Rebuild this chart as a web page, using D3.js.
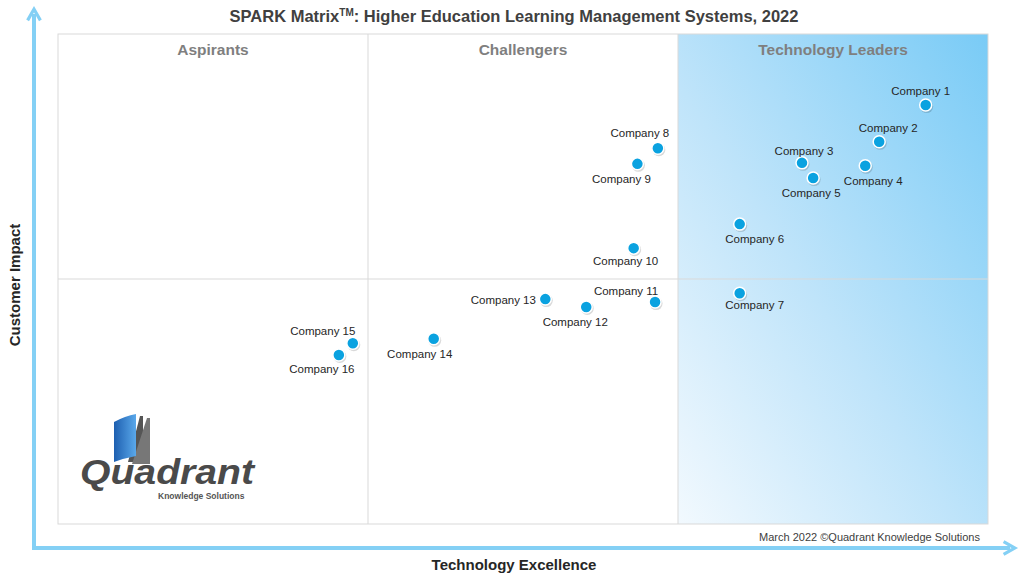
<!DOCTYPE html>
<html><head><meta charset="utf-8">
<script src="https://cdn.jsdelivr.net/npm/d3@7.9.0/dist/d3.min.js"></script>
<style>body{margin:0;background:#fff}svg{font-family:Arial,"Liberation Sans",sans-serif}</style>
</head><body><svg id="chart" width="1024" height="576"></svg>
<script>
const companies = ["Company 1","Company 2","Company 3","Company 4","Company 5","Company 6","Company 7","Company 8","Company 9","Company 10","Company 11","Company 12","Company 13","Company 14","Company 15","Company 16"];
const techExcellence = [93.3,88.3,80.0,86.8,81.2,73.3,73.3,64.5,62.3,61.9,64.2,56.8,52.4,40.4,31.7,30.2];
const customerImpact = [85.5,78.0,73.7,73.1,70.6,61.2,47.1,76.7,73.5,56.3,45.3,44.3,45.9,37.8,36.9,34.5];
const labelDx = [-5,9,2,8,-2,15,15,-18,-16,-8,-29,-11,-42,-14,-30,-17];
const labelDy = [-14,-14,-12,15,15,15,12,-15,15,13,-11,15,1,15,-12,14];
const quadrants = ["Aspirants","Challengers","Technology Leaders"];

const svg = d3.select("#chart");
const L=58,R=988,T=34,B=524;
const x = d3.scaleLinear().domain([0,100]).range([L,R]);
const y = d3.scaleLinear().domain([0,100]).range([B,T]);

const defs = svg.append("defs");
const g = defs.append("linearGradient").attr("id","lead").attr("x1","0").attr("y1","1").attr("x2","1").attr("y2","0");
g.append("stop").attr("offset","0").attr("stop-color","#f2f9fe");
g.append("stop").attr("offset","0.45").attr("stop-color","#bfe4fa");
g.append("stop").attr("offset","1").attr("stop-color","#79cbf6");
const mk = defs.append("marker").attr("id","arr").attr("viewBox","0 0 10 10").attr("refX",5).attr("refY",5)
  .attr("markerWidth",4).attr("markerHeight",4).attr("orient","auto");
mk.append("path").attr("d","M1,1L8,5L1,9").attr("fill","none").attr("stroke","#84d0f5").attr("stroke-width",2);

svg.append("rect").attr("x",x(200/3)).attr("y",T).attr("width",x(100)-x(200/3)).attr("height",B-T).attr("fill","url(#lead)");
svg.append("rect").attr("x",L).attr("y",T).attr("width",R-L).attr("height",B-T).attr("fill","none").attr("stroke","#d9d9d9");
[100/3,200/3].forEach(v=>svg.append("line").attr("x1",x(v)).attr("x2",x(v)).attr("y1",T).attr("y2",B).attr("stroke","#d9d9d9"));
svg.append("line").attr("x1",L).attr("x2",R).attr("y1",y(50)).attr("y2",y(50)).attr("stroke","#d9d9d9");

quadrants.forEach((q,i)=>svg.append("text").attr("x",x(100/6+i*100/3)).attr("y",55).attr("text-anchor","middle")
  .attr("font-size",15.5).attr("font-weight","bold").attr("fill","#7f7f7f").text(q));

// axes arrows
svg.append("line").attr("x1",34).attr("y1",549).attr("x2",34).attr("y2",14).attr("stroke","#84d0f5").attr("stroke-width",4).attr("marker-end","url(#arr)");
svg.append("line").attr("x1",32).attr("y1",548).attr("x2",1010).attr("y2",548).attr("stroke","#84d0f5").attr("stroke-width",4).attr("marker-end","url(#arr)");

svg.append("text").attr("x",514).attr("y",22).attr("text-anchor","middle").attr("font-size",16.5).attr("font-weight","bold").attr("fill","#404040")
  .html('SPARK Matrix<tspan font-size="10" dy="-6">TM</tspan><tspan dy="6">: Higher Education Learning Management Systems, 2022</tspan>');
svg.append("text").attr("x",514).attr("y",570).attr("text-anchor","middle").attr("font-size",15).attr("font-weight","bold").attr("fill","#262626").text("Technology Excellence");
svg.append("text").attr("transform","translate(20,285) rotate(-90)").attr("text-anchor","middle").attr("font-size",15).attr("font-weight","bold").attr("fill","#262626").text("Customer Impact");
svg.append("text").attr("x",980).attr("y",541).attr("text-anchor","end").attr("font-size",11).attr("fill","#404040").text("March 2022 ©Quadrant Knowledge Solutions");

// logo
const lg = svg.append("g");
const bg = defs.append("linearGradient").attr("id","book").attr("x1","0").attr("x2","1");
bg.append("stop").attr("offset","0").attr("stop-color","#1d5fb0");
bg.append("stop").attr("offset","1").attr("stop-color","#5aa8ea");
lg.append("path").attr("d","M140,416 L143,416 L143,462 L128,462 Z").attr("fill","#555");
lg.append("path").attr("d","M147,418 L150,418 L150,464 L132,464 Z").attr("fill","#777");
lg.append("path").attr("d","M114,422 Q125,416 136,414 L136,456 Q125,458 114,462 Z").attr("fill","url(#book)");
lg.append("text").attr("x",80).attr("y",484).attr("font-size",35).attr("font-style","italic").attr("font-weight","bold").attr("fill","#4a4a4a")
  .attr("textLength",174).attr("lengthAdjust","spacingAndGlyphs").text("Quadrant");
lg.append("text").attr("x",158).attr("y",499).attr("font-size",8.5).attr("font-weight","bold").attr("fill","#555").text("Knowledge Solutions");

const pts = svg.append("g");
companies.forEach((c,i)=>{
  const cx=x(techExcellence[i]), cy=y(customerImpact[i]);
  pts.append("circle").attr("cx",cx+1).attr("cy",cy+1.5).attr("r",6.5).attr("fill","#000").attr("opacity",0.15);
  pts.append("circle").attr("cx",cx).attr("cy",cy).attr("r",6).attr("fill","#0aa2e0").attr("stroke","#fff").attr("stroke-width",1.5);
  pts.append("text").attr("x",cx+labelDx[i]).attr("y",cy+labelDy[i]).attr("dy","0.35em").attr("text-anchor","middle")
    .attr("font-size",11.5).attr("fill","#262626").text(c);
});
</script></body></html>
